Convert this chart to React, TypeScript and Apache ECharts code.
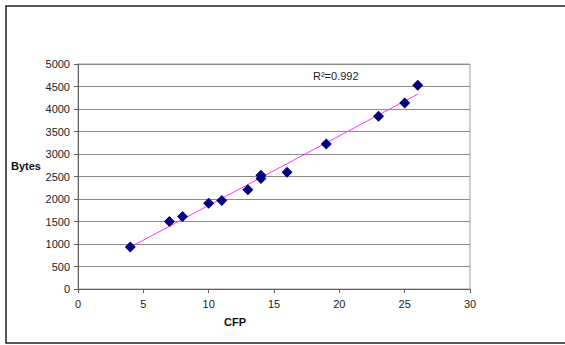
import React, { useEffect, useRef } from "react";
import * as echarts from "echarts";

const cfp = [4, 7, 8, 10, 11, 13, 14, 14, 16, 19, 23, 25, 26];
const bytes = [935, 1500, 1611, 1907, 1967, 2203, 2530, 2457, 2597, 3220, 3837, 4133, 4527];
const r2Label = "R\u00B2=0.992";

function fit(xs: number[], ys: number[]) {
  const n = xs.length;
  const mx = xs.reduce((a, b) => a + b, 0) / n;
  const my = ys.reduce((a, b) => a + b, 0) / n;
  let sxy = 0, sxx = 0;
  for (let i = 0; i < n; i++) {
    sxy += (xs[i] - mx) * (ys[i] - my);
    sxx += (xs[i] - mx) * (xs[i] - mx);
  }
  const slope = sxy / sxx;
  return { slope, intercept: my - slope * mx };
}

export default function App() {
  const ref = useRef<HTMLDivElement>(null);
  useEffect(() => {
    if (!ref.current) return;
    const chart = echarts.init(ref.current, undefined, { renderer: "svg" });
    const { slope, intercept } = fit(cfp, bytes);
    const xmin = Math.min(...cfp);
    const xmax = Math.max(...cfp);
    const trend = [
      [xmin, intercept + slope * xmin],
      [xmax, intercept + slope * xmax],
    ];
    const font = "'Liberation Sans', Arial, sans-serif";
    chart.setOption({
      animation: false,
      backgroundColor: "#ffffff",
      grid: { left: 78, right: 95, top: 64, bottom: 56, show: true, borderColor: "#a0a0a0", borderWidth: 1 },
      graphic: [
        {
          type: "rect",
          shape: { x: 6, y: 6, width: 600, height: 337 },
          style: { fill: "none", stroke: "#222", lineWidth: 1.5 },
          silent: true,
        },
        {
          type: "text",
          x: 313,
          y: 70,
          style: { text: r2Label, font: "11px " + font, fill: "#222" },
        },
        {
          type: "text",
          x: 11,
          y: 160,
          style: { text: "Bytes", font: "bold 11px " + font, fill: "#111" },
        },
        {
          type: "text",
          x: 224,
          y: 316,
          style: { text: "CFP", font: "bold 11px " + font, fill: "#111" },
        },
      ],
      xAxis: {
        type: "value",
        min: 0,
        max: 30,
        interval: 5,
        axisLine: { show: true, onZero: false, lineStyle: { color: "#606060" } },
        axisTick: { show: true, length: 4, lineStyle: { color: "#606060" } },
        axisLabel: { color: "#222", fontSize: 11, fontFamily: font, margin: 9 },
        splitLine: { show: false },
      },
      yAxis: {
        type: "value",
        min: 0,
        max: 5000,
        interval: 500,
        axisLine: { show: true, lineStyle: { color: "#606060" } },
        axisTick: { show: true, length: 4, lineStyle: { color: "#606060" } },
        axisLabel: { color: "#222", fontSize: 11, fontFamily: font, margin: 8, formatter: (v: number) => String(v) },
        splitLine: { show: true, lineStyle: { color: "#8a8a8a", width: 1 } },
      },
      series: [
        {
          type: "line",
          data: trend,
          showSymbol: false,
          symbol: "none",
          lineStyle: { color: "#ff33ff", width: 1 },
          z: 1,
        },
        {
          type: "scatter",
          data: cfp.map((x, i) => [x, bytes[i]]),
          symbol: "diamond",
          symbolSize: [11, 11],
          itemStyle: { color: "#000080", opacity: 1 },
          z: 2,
        },
      ],
    });
    return () => chart.dispose();
  }, []);
  return <div ref={ref} style={{ position: "absolute", left: 0, top: 0, width: 565, height: 345 }} />;
}
